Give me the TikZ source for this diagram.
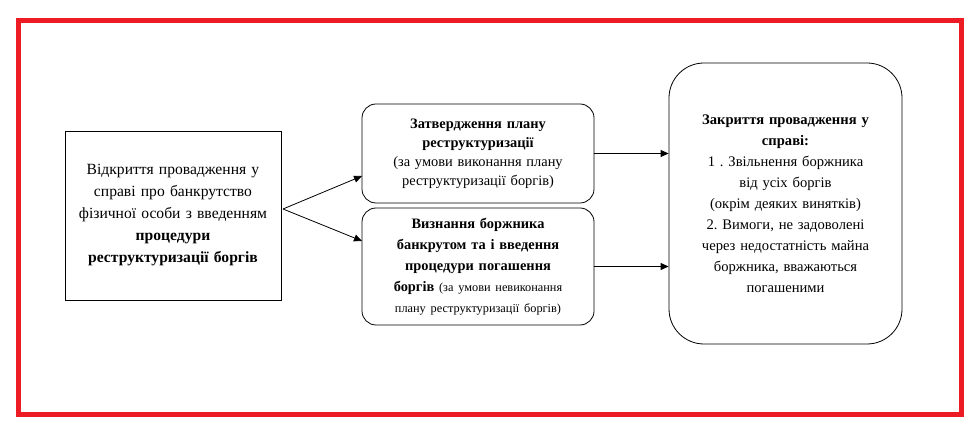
\documentclass[tikz,border=0pt]{standalone}
\usepackage{fontspec}
\setmainfont{Liberation Serif}
\usetikzlibrary{arrows.meta}
\definecolor{framered}{HTML}{ED1C24}
\frenchspacing

\begin{document}
\begin{tikzpicture}[x=1pt, y=1pt,
  every node/.style={align=center, inner sep=2pt},
  stage/.style={draw, line width=0.8pt},
  arrow/.style={-{Triangle[length=8pt, width=7pt]}, line width=0.8pt}]
  \useasboundingbox (0,0) rectangle (976,436);

  % Frame (red)
  \draw[framered, line width=5pt] (18.5,21.5) rectangle (961.5,415.5);

  % Boxes
  \node[stage, minimum width=216pt, minimum height=169pt, text width=210pt,
        font=\fontsize{15.6}{22}\selectfont] (open) at (173,220.5)
    {Відкриття провадження у\\справі про банкрутство\\фізичної особи з введенням\\
     \textbf{процедури}\\\textbf{реструктуризації боргів}};
  \node[stage, rounded corners=14pt, minimum width=232pt, minimum height=99pt,
        text width=226pt, font=\fontsize{14.4}{19}\selectfont] (plan) at (478,282.5)
    {\textbf{Затвердження плану}\\\textbf{реструктуризації}\\
     (за умови виконання плану\\реструктуризації боргів)};
  \node[stage, rounded corners=14pt, minimum width=232pt, minimum height=117pt,
        text width=226pt, font=\fontsize{14.4}{21}\selectfont] (bankrupt) at (478,169.5)
    {\textbf{Визнання боржника}\\\textbf{банкрутом та і введення}\\
     \textbf{процедури погашення}\\
     \textbf{боргів} {\fontsize{12.3}{19}\selectfont(за умови невиконання}\\
     {\fontsize{12.3}{19}\selectfont плану реструктуризації боргів)}};
  \node[stage, rounded corners=35pt, minimum width=233pt, minimum height=281pt,
        text width=226pt, font=\fontsize{14.6}{21}\selectfont] (close) at (785.5,232.5)
    {\textbf{Закриття провадження у}\\\textbf{справі:}\\
     1 . Звільнення боржника\\від усіх боргів\\(окрім деяких винятків)\\
     2. Вимоги, не задоволені\\через недостатність майна\\
     боржника, вважаються\\погашеними};

  % Fork point
  \coordinate (fork) at (283,227);
  \coordinate (planin) at (362,260);
  \coordinate (bankin) at (362,195);

  % Arrows
  \draw[arrow] (fork) -- (planin);
  \draw[arrow] (fork) -- (bankin);
  \draw[arrow] (plan.east) -- (plan.east -| close.west);
  \draw[arrow] (bankrupt.east) -- (bankrupt.east -| close.west);
\end{tikzpicture}
\end{document}
